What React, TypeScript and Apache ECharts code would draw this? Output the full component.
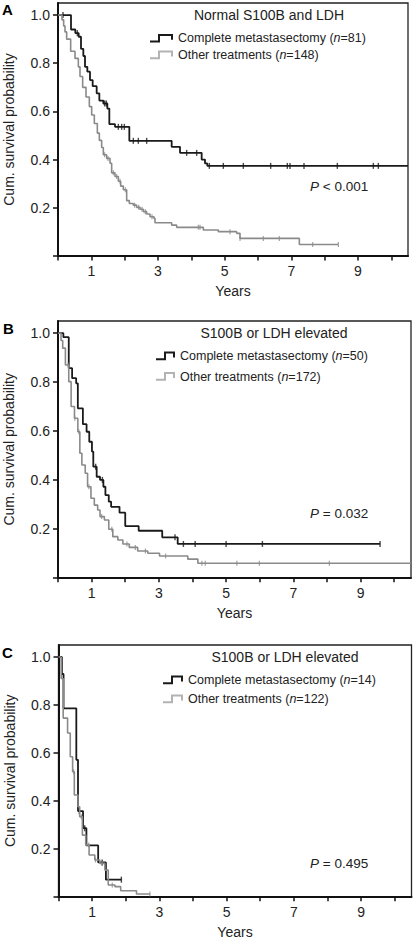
import React, { useEffect, useRef } from 'react';
import * as echarts from 'echarts';

const FONT = '"Liberation Sans", Arial, Helvetica, sans-serif';
const BLACK = '#1a1a1a';
const GRAY = '#8a8a8a';
const GRAY_ICON = '#b3b3b3';

// ---- Panel A: Normal S100B and LDH ----
const A_BLACK_T = [0, 0.39, 0.52, 0.62, 0.69, 0.76, 0.81, 0.88, 0.96, 1.04, 1.16, 1.24, 1.36, 1.48, 1.54, 1.71, 2.14, 3.41, 3.66, 4.31, 4.41, 4.48, 10.5];
const A_BLACK_S = [1, 0.94, 0.925, 0.91, 0.86, 0.83, 0.785, 0.765, 0.73, 0.705, 0.675, 0.645, 0.633, 0.612, 0.547, 0.536, 0.478, 0.453, 0.428, 0.40, 0.384, 0.374, 0.374];
const A_BLACK_CENS = [0.15, 0.58, 1.40, 1.45, 1.81, 1.91, 1.99, 2.26, 2.41, 2.66, 3.86, 4.16, 4.54, 4.96, 5.56, 6.38, 6.88, 6.96, 7.38, 8.38, 9.46, 9.61];
const A_GRAY_T = [0, 0.12, 0.17, 0.21, 0.26, 0.38, 0.51, 0.61, 0.66, 0.74, 0.84, 0.94, 1.01, 1.09, 1.18, 1.24, 1.31, 1.36, 1.46, 1.56, 1.61, 1.71, 1.81, 1.88, 1.96, 2.06, 2.14, 2.26, 2.36, 2.46, 2.56, 2.66, 2.76, 2.88, 2.91, 3.41, 3.56, 4.36, 4.81, 5.36, 5.46, 7.24, 8.41];
const A_GRAY_S = [1, 0.98, 0.955, 0.93, 0.90, 0.85, 0.82, 0.785, 0.745, 0.70, 0.66, 0.62, 0.585, 0.55, 0.51, 0.48, 0.45, 0.42, 0.405, 0.385, 0.345, 0.33, 0.31, 0.29, 0.275, 0.23, 0.218, 0.211, 0.202, 0.194, 0.184, 0.174, 0.163, 0.156, 0.138, 0.128, 0.119, 0.108, 0.101, 0.094, 0.073, 0.048, 0.048];
const A_GRAY_CENS = [1.40, 1.50, 1.66, 1.76, 1.86, 2.02, 2.30, 2.42, 2.52, 2.62, 2.82, 4.21, 4.26, 5.16, 5.46, 6.16, 6.64, 7.64, 8.41];

// ---- Panel B: S100B or LDH elevated ----
const B_BLACK_T = [0, 0.16, 0.32, 0.42, 0.54, 0.59, 0.74, 0.85, 0.93, 1.01, 1.05, 1.15, 1.25, 1.35, 1.41, 1.51, 1.58, 1.83, 2.0, 2.4, 3.1, 3.56, 9.58];
const B_BLACK_S = [1, 0.984, 0.857, 0.816, 0.795, 0.693, 0.628, 0.597, 0.556, 0.516, 0.454, 0.413, 0.40, 0.372, 0.338, 0.311, 0.29, 0.266, 0.211, 0.192, 0.165, 0.138, 0.138];
const B_BLACK_CENS = [1.12, 1.32, 3.48, 3.73, 4.08, 5.0, 6.08, 9.58];
const B_GRAY_T = [0, 0.09, 0.14, 0.22, 0.32, 0.39, 0.49, 0.59, 0.65, 0.71, 0.81, 0.88, 0.98, 1.08, 1.18, 1.25, 1.38, 1.51, 1.63, 1.78, 1.93, 2.12, 2.37, 2.67, 3.02, 3.86, 4.16, 10.5];
const B_GRAY_S = [1, 0.97, 0.939, 0.870, 0.802, 0.70, 0.652, 0.597, 0.509, 0.461, 0.427, 0.372, 0.325, 0.297, 0.277, 0.25, 0.236, 0.198, 0.168, 0.154, 0.138, 0.124, 0.109, 0.10, 0.089, 0.076, 0.059, 0.059];
const B_GRAY_CENS = [0.3, 0.5, 0.62, 0.92, 1.3, 1.6, 2.05, 2.3, 2.6, 3.2, 4.28, 4.38, 5.32, 5.99, 8.07];

// ---- Panel C: S100B or LDH elevated ----
const C_BLACK_T = [0, 0.10, 0.15, 0.53, 0.58, 0.73, 0.83, 1.18, 1.41, 1.87];
const C_BLACK_S = [1, 0.929, 0.786, 0.571, 0.357, 0.286, 0.214, 0.143, 0.071, 0.071];
const C_BLACK_CENS = [0.62, 0.78, 1.30, 1.87];
const C_GRAY_T = [0, 0.08, 0.14, 0.27, 0.35, 0.42, 0.47, 0.58, 0.63, 0.71, 0.81, 0.91, 1.08, 1.23, 1.38, 1.48, 1.68, 1.85, 2.32, 2.72];
const C_GRAY_S = [1, 0.91, 0.745, 0.683, 0.584, 0.521, 0.424, 0.375, 0.334, 0.257, 0.216, 0.174, 0.153, 0.139, 0.111, 0.049, 0.042, 0.025, 0.011, 0.011];
const C_GRAY_CENS = [0.45, 0.68, 0.9, 1.1, 1.3, 1.6, 2.72];

// ---- Texts ----
const PANEL_LETTERS = ['A', 'B', 'C'];
const PANEL_TITLES = ['Normal S100B and LDH', 'S100B or LDH elevated', 'S100B or LDH elevated'];
const BLACK_NAMES = ['Complete metastasectomy (n=81)', 'Complete metastasectomy (n=50)', 'Complete metastasectomy (n=14)'];
const GRAY_NAMES = ['Other treatments (n=148)', 'Other treatments (n=172)', 'Other treatments (n=122)'];
const P_TEXTS = ['< 0.001', '= 0.032', '= 0.495'];
const X_TICKS = [0, 1, 2, 3, 4, 5, 6, 7, 8, 9, 10];
const X_LABELS = [1, 3, 5, 7, 9];
const Y_TICKS = [0, 0.2, 0.4, 0.6, 0.8, 1.0];
const Y_LABELS = [0.2, 0.4, 0.6, 0.8, 1.0];
const X_NAME = 'Years';
const Y_NAME = 'Cum. survival probability';

// layout (positions only)
const GRIDS = [
  { left: 58, top: 3, width: 350, height: 253 },
  { left: 58, top: 321, width: 353, height: 256.7 },
  { left: 58.5, top: 645, width: 353, height: 251.7 },
];
const LEGEND_POS = [
  { icon: 150, text: 178, rows: [38.3, 55] },
  { icon: 156, text: 180, rows: [356, 376.5] },
  { icon: 163, text: 188, rows: [680, 699] },
];
const TITLE_POS = [[269, 15], [274, 333], [285, 657]];
const P_POS = [[310, 186], [310, 513], [310, 863]];
const LETTER_POS = [[2, 9], [3, 328], [2, 652.5]];

const PANELS = [
  { bt: A_BLACK_T, bs: A_BLACK_S, bc: A_BLACK_CENS, gt: A_GRAY_T, gs: A_GRAY_S, gc: A_GRAY_CENS },
  { bt: B_BLACK_T, bs: B_BLACK_S, bc: B_BLACK_CENS, gt: B_GRAY_T, gs: B_GRAY_S, gc: B_GRAY_CENS },
  { bt: C_BLACK_T, bs: C_BLACK_S, bc: C_BLACK_CENS, gt: C_GRAY_T, gs: C_GRAY_S, gc: C_GRAY_CENS },
];

const LEG_FS = 12.5;
const AX_FS = 14;
const P_FS = 13.5;

let measureCtx: CanvasRenderingContext2D | null = null;
function measure(text: string, font: string) {
  if (!measureCtx) measureCtx = document.createElement('canvas').getContext('2d');
  if (!measureCtx) return text.length * 6.5;
  measureCtx.font = font;
  return measureCtx.measureText(text).width;
}

function survAt(ts: number[], ss: number[], t: number) {
  let v = ss[0];
  for (let i = 0; i < ts.length; i++) if (ts[i] <= t) v = ss[i];
  return v;
}

// a line of text made of plain pieces, some italic
function textRun(x: number, y: number, pieces: { t: string; it?: boolean }[], size: number) {
  const out: any[] = [];
  let cx = x;
  pieces.forEach((pc) => {
    const font = `${pc.it ? 'italic ' : ''}${size}px ${FONT}`;
    out.push({ type: 'text', x: cx, y, style: { text: pc.t, font, fill: '#222', verticalAlign: 'middle', align: 'left' } });
    cx += measure(pc.t, font);
  });
  return out;
}

function namePieces(name: string) {
  const k = name.indexOf('(n=');
  if (k < 0) return [{ t: name }];
  return [{ t: name.slice(0, k + 1) }, { t: 'n', it: true }, { t: name.slice(k + 2) }];
}

function legendItem(x: number, tx: number, y: number, name: string, color: string, w: number) {
  return {
    type: 'group',
    children: [
      {
        type: 'polyline',
        shape: { points: [[x, y + 3.2], [x + 9, y + 3.2], [x + 9, y - 3.4], [x + w, y - 3.4], [x + w, y + 1.5]] },
        style: { stroke: color, lineWidth: 2, fill: null },
      },
      ...textRun(tx, y, namePieces(name), LEG_FS),
    ],
  };
}

function buildOption() {
  const grid: any[] = [];
  const xAxis: any[] = [];
  const yAxis: any[] = [];
  const series: any[] = [];
  const graphic: any[] = [];

  PANELS.forEach((p, i) => {
    grid.push({ ...GRIDS[i], containLabel: false, outerBoundsMode: 'none', show: true, borderColor: '#222', borderWidth: 1.3, backgroundColor: 'transparent' });
    xAxis.push({
      type: 'value', gridIndex: i, min: 0, max: 10.5,
      name: X_NAME, nameLocation: 'middle', nameGap: 28,
      nameTextStyle: { fontFamily: FONT, fontSize: AX_FS, color: '#222' },
      splitLine: { show: false },
      axisLine: { show: true, onZero: false, lineStyle: { color: '#111', width: 2 } },
      axisTick: { show: true, customValues: X_TICKS, length: 4.5, lineStyle: { color: '#111', width: 1.5 } },
      axisLabel: { customValues: X_LABELS, margin: 8, fontFamily: FONT, fontSize: AX_FS, color: '#222' },
    });
    yAxis.push({
      type: 'value', gridIndex: i, min: 0, max: 1.05,
      name: Y_NAME, nameLocation: 'middle', nameGap: 42, nameRotate: 90,
      nameTextStyle: { fontFamily: FONT, fontSize: AX_FS, color: '#222' },
      splitLine: { show: false },
      axisLine: { show: true, onZero: false, lineStyle: { color: '#111', width: 2 } },
      axisTick: { show: true, customValues: Y_TICKS, length: 5, lineStyle: { color: '#111', width: 1.5 } },
      axisLabel: { customValues: Y_LABELS, margin: 8, fontFamily: FONT, fontSize: AX_FS, color: '#222', formatter: (v: number) => v.toFixed(1) },
    });
    series.push({ name: BLACK_NAMES[i], type: 'line', xAxisIndex: i, yAxisIndex: i, step: 'end', symbol: 'none', data: p.bt.map((t, k) => [t, p.bs[k]]), lineStyle: { color: BLACK, width: 1.8 }, itemStyle: { color: BLACK }, z: 3 });
    series.push({ name: 'censored-black-' + i, type: 'scatter', xAxisIndex: i, yAxisIndex: i, symbol: 'rect', symbolSize: [1.4, 6], data: p.bc.map((t) => [t, survAt(p.bt, p.bs, t)]), itemStyle: { color: BLACK }, z: 3 });
    series.push({ name: GRAY_NAMES[i], type: 'line', xAxisIndex: i, yAxisIndex: i, step: 'end', symbol: 'none', data: p.gt.map((t, k) => [t, p.gs[k]]), lineStyle: { color: GRAY, width: 1.6 }, itemStyle: { color: GRAY }, z: 4 });
    series.push({ name: 'censored-gray-' + i, type: 'scatter', xAxisIndex: i, yAxisIndex: i, symbol: 'rect', symbolSize: [1.2, 5], data: p.gc.map((t) => [t, survAt(p.gt, p.gs, t)]), itemStyle: { color: GRAY }, z: 4 });

    const L = LEGEND_POS[i];
    const iw = L.text - L.icon - 6;
    graphic.push(legendItem(L.icon, L.text, L.rows[0], BLACK_NAMES[i], BLACK, iw));
    graphic.push(legendItem(L.icon, L.text, L.rows[1], GRAY_NAMES[i], GRAY_ICON, iw));
    graphic.push({ type: 'text', x: LETTER_POS[i][0], y: LETTER_POS[i][1], style: { text: PANEL_LETTERS[i], font: `bold 15px ${FONT}`, fill: '#000', verticalAlign: 'middle', align: 'left' } });
    graphic.push({ type: 'text', x: TITLE_POS[i][0], y: TITLE_POS[i][1], style: { text: PANEL_TITLES[i], font: `14px ${FONT}`, fill: '#222', verticalAlign: 'middle', align: 'center' } });
    graphic.push({ type: 'group', children: textRun(P_POS[i][0], P_POS[i][1], [{ t: 'P', it: true }, { t: ' ' + P_TEXTS[i] }], P_FS) });
  });

  return { animation: false, backgroundColor: '#fff', textStyle: { fontFamily: FONT }, grid, xAxis, yAxis, series, graphic };
}

export default function App() {
  const ref = useRef<HTMLDivElement>(null);
  useEffect(() => {
    if (!ref.current) return;
    const chart = echarts.init(ref.current, undefined, { renderer: 'svg', width: 414, height: 944 });
    chart.setOption(buildOption() as any);
    return () => chart.dispose();
  }, []);
  return <div ref={ref} style={{ position: 'fixed', left: 0, top: 0, width: 414, height: 944, background: '#fff' }} />;
}
